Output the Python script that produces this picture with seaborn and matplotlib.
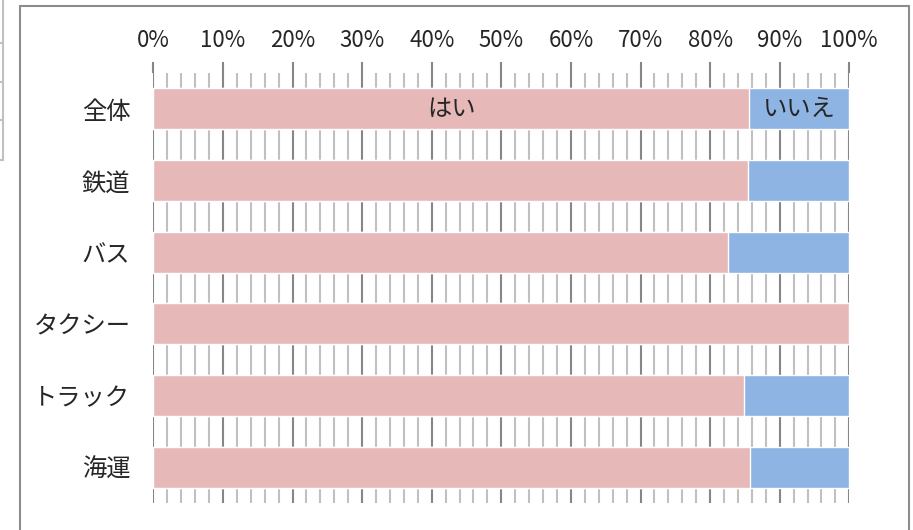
import numpy as np
import pandas as pd
import matplotlib.pyplot as plt
from matplotlib.lines import Line2D
from matplotlib.ticker import MultipleLocator, PercentFormatter
import seaborn as sns

sns.set_style('white')
plt.rcParams['font.family'] = ['Noto Sans CJK JP', 'DejaVu Sans']

categories = ['全体', '鉄道', 'バス', 'タクシー', 'トラック', '海運']
yes = [85.6, 85.5, 82.6, 100.0, 84.8, 85.7]
no = [14.4, 14.5, 17.4, 0.0, 15.2, 14.3]
series_names = ['はい', 'いいえ']

pink = '#E6B9B8'
blue = '#8EB4E3'

df = pd.DataFrame({'cat': categories, 'yes': yes, 'no': no})
df['total'] = df['yes'] + df['no']

fig = plt.figure(figsize=(9.13, 5.30), dpi=100)
ax = fig.add_axes([153.3 / 913, 1 - 503 / 530, 696 / 913, 430 / 530])

sns.barplot(data=df, x='total', y='cat', orient='h', color=blue,
            width=0.57, saturation=1, ax=ax, zorder=3)
sns.barplot(data=df, x='yes', y='cat', orient='h', color=pink,
            width=0.57, saturation=1, ax=ax, zorder=3)

ax.set_xlim(0, 100)
ax.set_ylim(5.5, -0.5)
ax.set_xlabel('')
ax.set_ylabel('')

ax.xaxis.set_major_locator(MultipleLocator(10))
ax.xaxis.set_minor_locator(MultipleLocator(2))
ax.xaxis.set_major_formatter(PercentFormatter(decimals=0))
ax.xaxis.tick_top()
ax.tick_params(axis='x', which='major', top=True, bottom=False, length=8,
               width=1.5, color='#868686', pad=7, labelsize=16)
ax.tick_params(axis='x', which='minor', top=False, bottom=False)
ax.tick_params(axis='y', left=False, pad=13, labelsize=17.5)

ax.grid(True, axis='x', which='major', color='#868686', lw=1.5, zorder=0)
ax.grid(True, axis='x', which='minor', color='#C0C0C0', lw=1.5, zorder=0)
ax.grid(False, axis='y')
ax.set_axisbelow(True)
for s in ax.spines.values():
    s.set_visible(False)

# segment labels on the first bar
ax.text(yes[0] / 2, 0, series_names[0], ha='center', va='center', fontsize=17.5)
ax.text(yes[0] + no[0] / 2, 0, series_names[1], ha='center', va='center', fontsize=17.5)

# outer chart frame
W, H = 913, 530
fx = lambda p: p / W
fy = lambda p: 1 - p / H
frame = '#8C8C8C'
fig.add_artist(Line2D([fx(19.5), fx(19.5)], [fy(6), fy(540)], color=frame, lw=1.5))
fig.add_artist(Line2D([fx(19.5), fx(908.5)], [fy(6), fy(6)], color=frame, lw=1.5))
fig.add_artist(Line2D([fx(908.5), fx(908.5)], [fy(6), fy(540)], color=frame, lw=1.5))

# cut-off table at the left edge
tab = '#C0C0C0'
fig.add_artist(Line2D([fx(3), fx(3)], [fy(0), fy(160)], color=tab, lw=1.5))
for yy in [43, 82, 120, 160]:
    fig.add_artist(Line2D([fx(0), fx(3)], [fy(yy), fy(yy)], color=tab, lw=1.5))

fig.savefig('out.png', dpi=100)
